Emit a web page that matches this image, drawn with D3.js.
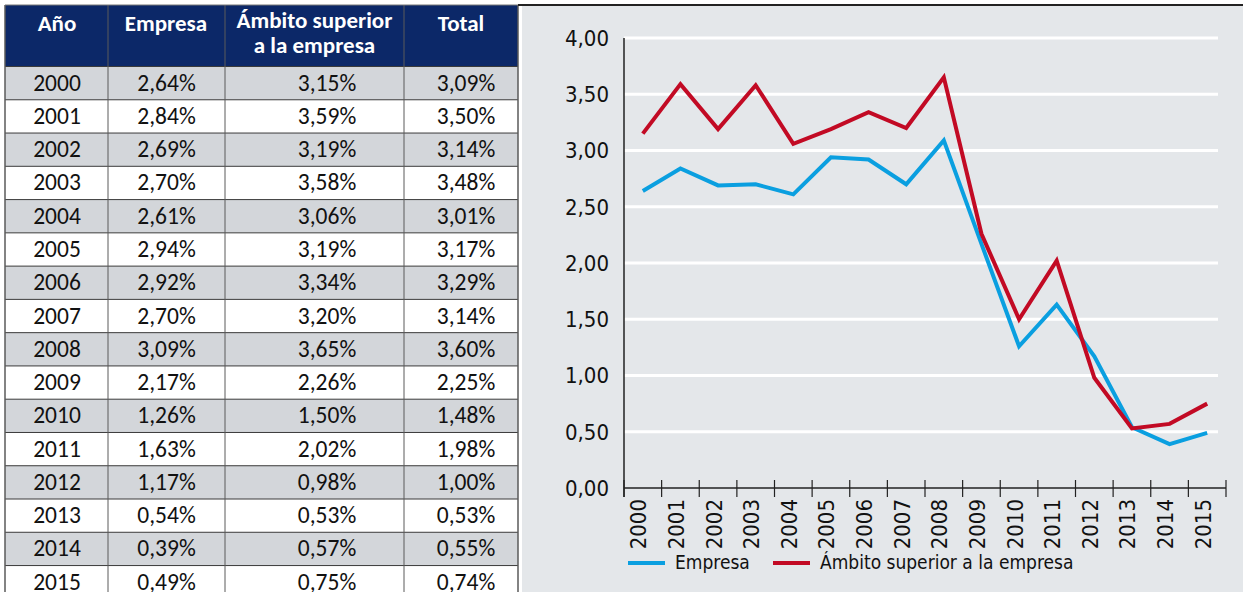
<!DOCTYPE html>
<html><head><meta charset="utf-8">
<script src="https://cdn.jsdelivr.net/npm/d3@7"></script>
<style>
html,body{margin:0;padding:0;background:#fff;}
svg{display:block;}
</style></head>
<body>
<svg id="c" width="1243" height="592"></svg>
<script>
const years = ["2000","2001","2002","2003","2004","2005","2006","2007","2008","2009","2010","2011","2012","2013","2014","2015"];
const empresa = [2.64,2.84,2.69,2.70,2.61,2.94,2.92,2.70,3.09,2.17,1.26,1.63,1.17,0.54,0.39,0.49];
const ambito = [3.15,3.59,3.19,3.58,3.06,3.19,3.34,3.20,3.65,2.26,1.50,2.02,0.98,0.53,0.57,0.75];
const total = [3.09,3.50,3.14,3.48,3.01,3.17,3.29,3.14,3.60,2.25,1.48,1.98,1.00,0.53,0.55,0.74];
const yTicks = [0,0.5,1,1.5,2,2.5,3,3.5,4];
const headers = [["Año"],["Empresa"],["Ámbito superior","a la empresa"],["Total"]];
const seriesNames = ["Empresa","Ámbito superior a la empresa"];

const svg = d3.select("#c");
const tableFont = "Carlito, Lato, 'Open Sans', sans-serif";
const chartFont = "'Liberation Sans Narrow', 'DejaVu Sans Condensed', 'Roboto Condensed', sans-serif";
const fmtPct = d => d.toFixed(2).replace(".", ",") + "%";
const fmtAx = d => d.toFixed(2).replace(".", ",");

// ---------- TABLE ----------
const colEdges = [5,108,225,404,518];
const colText = [57,166.5,327,466];
const headText = [57,166,314.5,461];
const headTop = 5, headBot = 66.5, rowH = 33.27;
const tg = svg.append("g");
tg.append("rect").attr("x",colEdges[0]).attr("y",headTop).attr("width",colEdges[4]-colEdges[0]).attr("height",headBot-headTop).attr("fill","#0c2868");
const rowY = d3.scaleBand().domain(years).range([headBot, headBot + rowH*years.length]);
tg.selectAll("rect.row").data(years).join("rect").attr("class","row")
  .attr("x",colEdges[0]).attr("y",d=>rowY(d)).attr("width",colEdges[4]-colEdges[0]).attr("height",rowH)
  .attr("fill",(d,i)=> i%2===0 ? "#d3d6da" : "#ffffff");
tg.selectAll("line.h").data(years).join("line").attr("class","h")
  .attr("x1",colEdges[0]).attr("x2",colEdges[4]).attr("y1",d=>rowY(d)).attr("y2",d=>rowY(d))
  .attr("stroke","#3a3a3a").attr("stroke-width",1);
tg.selectAll("line.v").data(colEdges).join("line").attr("class","v")
  .attr("x1",d=>d).attr("x2",d=>d).attr("y1",headTop).attr("y2",592)
  .attr("stroke","#5a5a5a").attr("stroke-width",(d,i)=> (i===0||i===4)?1.5:1);
tg.append("line").attr("x1",colEdges[0]).attr("x2",colEdges[4]).attr("y1",headTop).attr("y2",headTop).attr("stroke","#777").attr("stroke-width",1);
headers.forEach((h,i)=>{
  const t = tg.append("text").attr("x",headText[i]).attr("y",h.length>1?28:31)
    .attr("text-anchor","middle").attr("fill","#fff").attr("font-family",tableFont)
    .attr("font-size",23).attr("font-weight","bold");
  h.forEach((ln,j)=> t.append("tspan").attr("x",headText[i]).attr("dy",j===0?0:25).text(ln));
});
const cols = [years, empresa.map(fmtPct), ambito.map(fmtPct), total.map(fmtPct)];
cols.forEach((arr,ci)=>{
  tg.selectAll("text.c"+ci).data(arr).join("text").attr("class","c"+ci)
    .attr("x",colText[ci]).attr("y",(d,i)=>rowY(years[i])+rowH/2+7.5)
    .attr("text-anchor","middle").attr("fill","#111").attr("font-family",tableFont).attr("font-size",23.5)
    .text(d=>d);
});

// ---------- CHART ----------
svg.append("rect").attr("x",522).attr("y",5).attr("width",1243-522).attr("height",592-5).attr("fill","#e4e7ea");
svg.append("line").attr("x1",518).attr("x2",1243).attr("y1",5).attr("y2",5).attr("stroke","#222").attr("stroke-width",2);

const x = d3.scaleBand().domain(years).range([624,1226]).paddingInner(0).paddingOuter(0);
const y = d3.scaleLinear().domain([0,4]).range([488,38]);
const cx = d => x(d) + x.bandwidth()/2;

svg.append("g").selectAll("line").data(yTicks.filter(d=>d>0)).join("line")
  .attr("x1",624).attr("x2",1218).attr("y1",d=>y(d)).attr("y2",d=>y(d))
  .attr("stroke","#fff").attr("stroke-width",3);

const ya = svg.append("g").attr("transform","translate(624,0)")
  .call(d3.axisLeft(y).tickValues(yTicks).tickFormat(fmtAx).tickSize(0).tickPadding(15));
ya.select(".domain").attr("stroke","#222").attr("stroke-width",1.5).attr("d","M0,38V497");
ya.selectAll("text").attr("font-family",chartFont).attr("font-size",22).attr("fill","#111").attr("dy","0.34em");

const xa = svg.append("g").attr("transform",`translate(0,${y(0)})`);
xa.append("line").attr("x1",624).attr("x2",1226).attr("y1",0).attr("y2",0).attr("stroke","#222").attr("stroke-width",1.5);
const edges = years.map(d=>x(d)).concat([x(years[years.length-1])+x.bandwidth()]);
xa.selectAll("line.tk").data(edges).join("line").attr("class","tk")
  .attr("x1",d=>d).attr("x2",d=>d).attr("y1",-8).attr("y2",9).attr("stroke","#222").attr("stroke-width",1.2);
xa.selectAll("text").data(years).join("text")
  .attr("transform",d=>`translate(${cx(d)+3.5},11) rotate(-90)`)
  .attr("text-anchor","end").attr("font-family",chartFont).attr("font-size",22).attr("fill","#111")
  .text(d=>d);

const line = d3.line().x((d,i)=>cx(years[i])).y(d=>y(d));
svg.append("path").datum(empresa).attr("d",line).attr("fill","none").attr("stroke","#0a9fe0").attr("stroke-width",4).attr("stroke-linejoin","miter");
svg.append("path").datum(ambito).attr("d",line).attr("fill","none").attr("stroke","#c20a24").attr("stroke-width",4).attr("stroke-linejoin","miter");

const legColors = ["#0a9fe0","#c20a24"];
const legX = [628,773];
seriesNames.forEach((n,i)=>{
  svg.append("line").attr("x1",legX[i]).attr("x2",legX[i]+37).attr("y1",563).attr("y2",563).attr("stroke",legColors[i]).attr("stroke-width",4);
  svg.append("text").attr("x",legX[i]+47).attr("y",569).attr("font-family",chartFont).attr("font-size",19).attr("fill","#111").text(n);
});
</script>
</body></html>
